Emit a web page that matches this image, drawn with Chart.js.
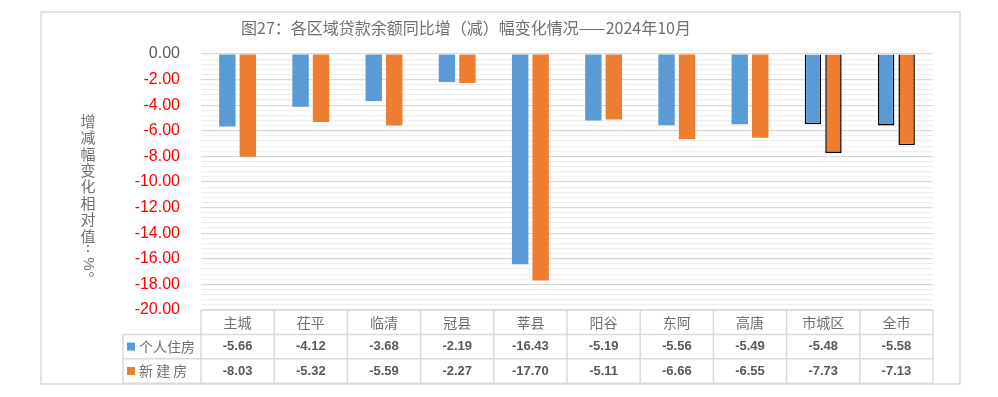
<!DOCTYPE html>
<html>
<head>
<meta charset="utf-8">
<script src="https://cdn.jsdelivr.net/npm/chart.js@4.4.0/dist/chart.umd.min.js"></script>
<style>
  html, body { margin: 0; padding: 0; background: #fff; }
  #wrap { width: 998px; height: 397px; position: relative; }
</style>
</head>
<body>
<div id="wrap"><canvas id="chart"></canvas></div>
<script>
// chart data
const categories = ["主城", "茌平", "临清", "冠县", "莘县", "阳谷", "东阿", "高唐", "市城区", "全市"];
const personalHousing = [-5.66, -4.12, -3.68, -2.19, -16.43, -5.19, -5.56, -5.49, -5.48, -5.58];
const newHousing = [-8.03, -5.32, -5.59, -2.27, -17.70, -5.11, -6.66, -6.55, -7.73, -7.13];
const seriesNames = ["个人住房", "新 建 房"];
const outlinedCategories = ["市城区", "全市"];
const yMin = -20, yMax = 0, yMajorStep = 2, yMinorStep = 0.4;

const titleText = "图27：各区域贷款余额同比增（减）幅变化情况——2024年10月";
const yTitleChars = ["增", "减", "幅", "变", "化", "相", "对", "值", ":", "%", "。"];

const BLUE = "#5B9BD5";
const ORANGE = "#ED7D31";
const GRAY = "#595959";
const LIGHT_TEXT = "#707070";
const LINE = "#D9D9D9";
const CJK = "'Noto Sans CJK SC', 'Noto Sans', sans-serif";
const NUM = "'Liberation Sans', Arial, sans-serif";

const isMajor = v => Math.abs(Math.round(v * 100)) % Math.round(yMajorStep * 100) === 0;

const outlineColor = ctx => outlinedCategories.includes(categories[ctx.dataIndex]) ? "#000" : "rgba(0,0,0,0)";
const outlineWidth = ctx => outlinedCategories.includes(categories[ctx.dataIndex]) ? 1.5 : 0;

// table, titles and frame drawn around the plot
const decorPlugin = {
    id: "decor",
    beforeDraw(chart) {
        const c = chart.ctx;
        c.save();
        c.fillStyle = "#fff";
        c.fillRect(0, 0, chart.width, chart.height);
        c.restore();
    },
    afterDraw(chart) {
        const c = chart.ctx;
        const x = chart.scales.x;
        const area = chart.chartArea;
        const rowH = 24.4;
        const legendLeft = 123;
        const tableTop = area.bottom;
        const step = (area.right - area.left) / categories.length;

        c.save();

        // outer frame
        c.strokeStyle = LINE;
        c.lineWidth = 1.5;
        c.strokeRect(41, 12, 919, 372);

        // title
        c.fillStyle = LIGHT_TEXT;
        c.font = "16px " + CJK;
        c.textAlign = "center";
        c.textBaseline = "middle";
        c.fillText(titleText, 466, 28);

        // vertical y axis title, one glyph per line
        c.font = "15px " + CJK;
        yTitleChars.forEach((ch, i) => {
            if (i < 8) {
                c.fillText(ch, 88, 121 + i * 16.4);
            } else if (ch === ":") {
                c.font = "bold 13px " + NUM;
                c.fillText(ch, 88, 248);
                c.font = "15px " + CJK;
            } else if (ch === "%") {
                c.save();
                c.font = "15px " + NUM;
                c.translate(88, 264);
                c.rotate(Math.PI / 2);
                c.fillText(ch, 0, 0);
                c.restore();
            } else {
                c.fillText(ch, 96, 269);
            }
        });

        // data table grid
        c.strokeStyle = LINE;
        c.lineWidth = 1.5;
        c.beginPath();
        c.moveTo(area.left, tableTop);
        c.lineTo(area.right, tableTop);
        for (let r = 1; r <= 3; r++) {
            c.moveTo(legendLeft, tableTop + r * rowH);
            c.lineTo(area.right, tableTop + r * rowH);
        }
        c.moveTo(legendLeft, tableTop + rowH);
        c.lineTo(legendLeft, tableTop + 3 * rowH);
        for (let i = 0; i <= categories.length; i++) {
            const lx = area.left + i * step;
            c.moveTo(lx, tableTop);
            c.lineTo(lx, tableTop + 3 * rowH);
        }
        c.stroke();

        // category header and values
        categories.forEach((cat, i) => {
            const cx = x.getPixelForValue(i);
            c.fillStyle = LIGHT_TEXT;
            c.font = "14px " + CJK;
            c.fillText(cat, cx, tableTop + rowH * 0.5);
            c.fillStyle = GRAY;
            c.font = "bold 13px " + NUM;
            c.fillText(personalHousing[i].toFixed(2), cx, tableTop + rowH * 1.5);
            c.fillText(newHousing[i].toFixed(2), cx, tableTop + rowH * 2.5);
        });

        // legend cells
        const colors = [BLUE, ORANGE];
        seriesNames.forEach((name, k) => {
            const cy = tableTop + rowH * (1.5 + k);
            c.fillStyle = colors[k];
            c.fillRect(127, cy - 4, 8, 8);
            c.fillStyle = LIGHT_TEXT;
            c.font = "14px " + CJK;
            c.textAlign = "left";
            c.fillText(name, 139, cy);
        });

        c.restore();
    }
};

const ctx = document.getElementById("chart").getContext("2d");
new Chart(ctx, {
    type: "bar",
    data: {
        labels: categories,
        datasets: [
            {
                label: seriesNames[0],
                data: personalHousing,
                backgroundColor: BLUE,
                borderColor: outlineColor,
                borderWidth: outlineWidth,
                categoryPercentage: 0.56,
                barPercentage: 0.8
            },
            {
                label: seriesNames[1],
                data: newHousing,
                backgroundColor: ORANGE,
                borderColor: outlineColor,
                borderWidth: outlineWidth,
                categoryPercentage: 0.56,
                barPercentage: 0.8
            }
        ]
    },
    options: {
        responsive: true,
        maintainAspectRatio: false,
        animation: false,
        layout: { padding: { left: 0, right: 65, top: 54, bottom: 87 } },
        plugins: {
            legend: { display: false },
            title: { display: false },
            tooltip: { enabled: false }
        },
        scales: {
            x: {
                display: false,
                offset: true
            },
            y: {
                min: yMin,
                max: yMax,
                afterFit(scale) { scale.width = 201; },
                border: { display: false },
                grid: {
                    drawTicks: false,
                    color: c => isMajor(c.tick.value) ? "#D9D9D9" : "#EFEFEF",
                    lineWidth: 1.2
                },
                ticks: {
                    stepSize: yMinorStep,
                    autoSkip: false,
                    padding: 21,
                    font: { family: NUM, size: 16 },
                    color: c => Math.abs(c.tick.value) < 1e-9 ? GRAY : "#FF0000",
                    callback: v => isMajor(v) ? v.toFixed(2) : ""
                }
            }
        }
    },
    plugins: [decorPlugin]
});
</script>
</body>
</html>
